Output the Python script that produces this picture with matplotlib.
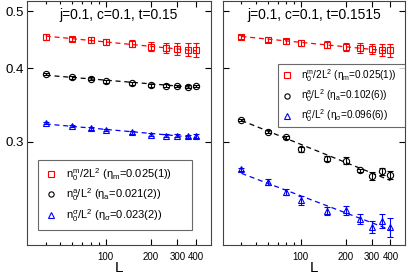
import numpy as np
import matplotlib
matplotlib.use('Agg')
import matplotlib.pyplot as plt
from matplotlib.lines import Line2D
from matplotlib.ticker import FixedLocator, NullLocator, FixedFormatter

plt.rcParams['font.family'] = ['Liberation Sans', 'DejaVu Sans']
plt.rcParams['mathtext.fontset'] = 'custom'
plt.rcParams['mathtext.rm'] = 'Liberation Sans'
plt.rcParams['mathtext.it'] = 'Liberation Sans'

# system sizes
L = np.array([40, 60, 80, 100, 150, 200, 250, 300, 350, 400])

# left panel: j=0.1, c=0.1, t=0.15
m_left = [0.452, 0.448, 0.446, 0.443, 0.440, 0.435, 0.433, 0.431, 0.430, 0.429]
m_left_err = [0.005, 0.004, 0.005, 0.005, 0.006, 0.008, 0.009, 0.010, 0.011, 0.012]
a_left = [0.391, 0.386, 0.384, 0.380, 0.377, 0.374, 0.3735, 0.373, 0.372, 0.373]
a_left_err = [0.002, 0.002, 0.002, 0.002, 0.002, 0.002, 0.002, 0.002, 0.002, 0.002]
s_left = [0.323, 0.319, 0.316, 0.314, 0.311, 0.308, 0.307, 0.307, 0.306, 0.3065]
s_left_err = [0.0015, 0.0015, 0.0015, 0.0015, 0.0015, 0.002, 0.002, 0.002, 0.002, 0.002]
eta_left = [0.025, 0.021, 0.023]
lab_left = [r'n$_0^m$/2L$^2$ ($\eta_m$=0.025(1))',
            r'n$_0^a$/L$^2$ ($\eta_a$=0.021(2))',
            r'n$_0^\sigma$/L$^2$ ($\eta_\sigma$=0.023(2))']

# right panel: j=0.1, c=0.1, t=0.1515
m_right = [0.452, 0.447, 0.444, 0.441, 0.438, 0.435, 0.433, 0.431, 0.430, 0.429]
m_right_err = [0.004, 0.004, 0.004, 0.005, 0.006, 0.007, 0.008, 0.009, 0.010, 0.011]
a_right = [0.3265, 0.312, 0.305, 0.291, 0.2806, 0.2785, 0.268, 0.262, 0.267, 0.263]
a_right_err = [0.0015, 0.0015, 0.002, 0.003, 0.003, 0.004, 0.0015, 0.004, 0.0035, 0.004]
s_right = [0.269, 0.256, 0.2466, 0.2384, 0.2286, 0.2292, 0.2213, 0.2151, 0.2197, 0.2143]
s_right_err = [0.0015, 0.0033, 0.003, 0.004, 0.004, 0.004, 0.0045, 0.005, 0.006, 0.008]
eta_right = [0.025, 0.102, 0.096]
lab_right = [r'n$_0^m$/2L$^2$ ($\eta_m$=0.025(1))',
             r'n$_0^a$/L$^2$ ($\eta_a$=0.102(6))',
             r'n$_0^\sigma$/L$^2$ ($\eta_\sigma$=0.096(6))']

yticks = [0.3, 0.4, 0.5]
ytick_labels = ['0.3', '0.4', '0.5']
xticks = [100, 200, 300, 400]
xtick_labels = ['100', '200', '300', '400']

colors = ['#ff0000', 'black', '#0000ff']
markers = ['s', 'o', '^']

fig = plt.figure(figsize=(4.15, 2.76), dpi=100)
ax1 = fig.add_axes([0.065, 0.112, 0.443, 0.884])
ax2 = fig.add_axes([0.537, 0.112, 0.4386, 0.884])


def draw_panel(ax, series, errs, etas, labels, title, leg_box, leg_size, leg_pad,
               ylabels=True):
    for y, e, eta, c, mk in zip(series, errs, etas, colors, markers):
        y = np.array(y)
        # power-law fit with the quoted exponent
        amp = np.exp(np.mean(np.log(y) + eta * np.log(L)))
        ax.plot(L, amp * L ** (-eta), '--', color=c, lw=0.9, dashes=(4, 3))
        ax.errorbar(L, y, yerr=e, fmt=mk, mfc='none', mec=c, ecolor=c,
                    ms=4.5, mew=0.8, elinewidth=0.8, capsize=2.5, capthick=0.8)
    ax.set_xscale('log')
    ax.set_yscale('log')
    ax.set_xlim(30, 500)
    ax.set_ylim(0.2, 0.52)
    ax.xaxis.set_major_locator(FixedLocator(xticks))
    ax.xaxis.set_major_formatter(FixedFormatter(xtick_labels))
    ax.xaxis.set_minor_locator(FixedLocator([40, 50, 60, 70, 80, 90]))
    ax.xaxis.set_minor_formatter(FixedFormatter([''] * 6))
    ax.yaxis.set_major_locator(FixedLocator(yticks))
    ax.yaxis.set_major_formatter(FixedFormatter(ytick_labels if ylabels else ['', '', '']))
    ax.yaxis.set_minor_locator(NullLocator())
    ax.tick_params(which='both', direction='in', top=True, right=True, width=0.8)
    ax.tick_params(which='major', length=4)
    ax.tick_params(which='minor', length=2.5)
    ax.tick_params(axis='x', labelsize=7, pad=5)
    ax.tick_params(axis='y', labelsize=9.5, pad=2)
    for sp in ax.spines.values():
        sp.set_linewidth(0.8)
        sp.set_color('#444444')
    ax.set_xlabel('L', fontsize=11, labelpad=-1)
    ax.text(0.5, 0.97, title, transform=ax.transAxes, ha='center', va='top',
            fontsize=10)
    handles = [Line2D([], [], marker=mk, ls='none', mfc='none', mec=c, ms=3.8, mew=0.8)
               for c, mk in zip(colors, markers)]
    leg = ax.legend(handles, labels, loc='upper left', bbox_to_anchor=leg_box,
                    mode='expand', fontsize=leg_size, frameon=True, fancybox=False,
                    handlelength=1.2, handletextpad=0.8, borderpad=leg_pad,
                    labelspacing=0.35, borderaxespad=0)
    leg.get_frame().set_edgecolor('#444444')
    leg.get_frame().set_linewidth(0.8)


draw_panel(ax1, [m_left, a_left, s_left], [m_left_err, a_left_err, s_left_err],
           eta_left, lab_left, 'j=0.1, c=0.1, t=0.15', (0.06, 0.35, 0.837, 0.0), 8, 0.55)
draw_panel(ax2, [m_right, a_right, s_right], [m_right_err, a_right_err, s_right_err],
           eta_right, lab_right, 'j=0.1, c=0.1, t=0.1515', (0.302, 0.742, 0.698, 0.0),
           7.2, 0.3, ylabels=False)

fig.savefig('out.png', dpi=100)
